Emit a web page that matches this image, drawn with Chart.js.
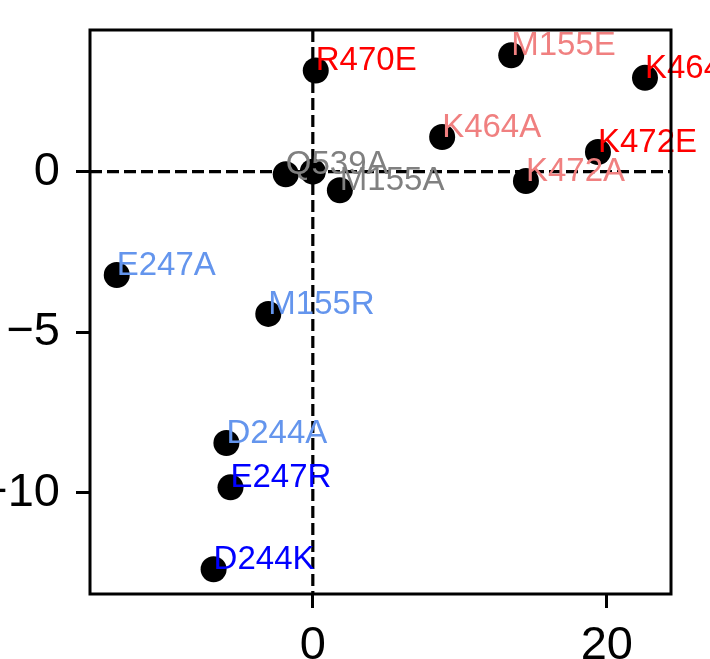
<!DOCTYPE html>
<html>
<head>
<meta charset="utf-8">
<script src="https://cdn.jsdelivr.net/npm/chart.js@4.4.0/dist/chart.umd.min.js"></script>
<style>
  html, body { margin: 0; padding: 0; background: #fff; }
  #chart { display: block; }
</style>
</head>
<body>
<canvas id="chart" width="710" height="659"></canvas>
<script>
// mutant labels, positions and label colours
const mutants = ['WT', 'R470E', 'M155E', 'K464E', 'K464A', 'K472E', 'K472A', 'Q539A', 'M155A',
                 'E247A', 'M155R', 'D244A', 'E247R', 'D244K'];
const xValues = [0, 0.2, 13.5, 22.6, 8.8, 19.4, 14.5, -1.84, 1.84, -13.34, -3.03, -5.88, -5.6, -6.75];
const yValues = [0, 3.15, 3.62, 2.92, 1.08, 0.61, -0.29, -0.08, -0.58, -3.22, -4.43, -8.45, -9.83, -12.38];
const labelColors = ['', '#ff0000', '#f08080', '#ff0000', '#f08080', '#ff0000', '#f08080', '#808080', '#808080',
                     '#6495ed', '#6495ed', '#6495ed', '#0000ff', '#0000ff'];

const xTicks = [0, 20];
const yTicks = [-10, -5, 0];
const xRange = [-15.16, 24.37];
const yRange = [-13.15, 4.41];

const FONT = '"Liberation Sans", Arial, sans-serif';

const points = xValues.map((x, i) => ({ x: x, y: yValues[i] }));

// dashed zero lines, point labels and the frame
const decorations = {
  id: 'decorations',
  afterDatasetsDraw(chart) {
    const { ctx, chartArea, scales } = chart;
    const x0 = scales.x.getPixelForValue(0);
    const y0 = scales.y.getPixelForValue(0);
    ctx.save();
    ctx.strokeStyle = '#000';
    ctx.lineWidth = 3.2;
    ctx.setLineDash([12, 5]);
    ctx.beginPath();
    ctx.moveTo(x0, chartArea.top);
    ctx.lineTo(x0, chartArea.bottom);
    ctx.moveTo(chartArea.left, y0);
    ctx.lineTo(chartArea.right, y0);
    ctx.stroke();
    ctx.restore();

    const meta = chart.getDatasetMeta(0);
    ctx.save();
    ctx.font = '33px ' + FONT;
    ctx.textAlign = 'left';
    ctx.textBaseline = 'alphabetic';
    meta.data.forEach((pt, i) => {
      if (!labelColors[i]) return;
      ctx.fillStyle = labelColors[i];
      ctx.fillText(mutants[i], pt.x, pt.y);
    });
    ctx.restore();
  },
  afterDraw(chart) {
    const { ctx, chartArea } = chart;
    ctx.save();
    ctx.strokeStyle = '#000';
    ctx.lineWidth = 3;
    ctx.strokeRect(chartArea.left, chartArea.top, chartArea.right - chartArea.left, chartArea.bottom - chartArea.top);
    ctx.restore();
  }
};

const fmt = v => (v < 0 ? '\u2212' + Math.abs(v) : String(v));

new Chart(document.getElementById('chart'), {
  type: 'scatter',
  data: {
    datasets: [{
      data: points,
      pointRadius: 13,
      pointHoverRadius: 13,
      pointBackgroundColor: '#000',
      pointBorderWidth: 0,
      clip: false
    }]
  },
  options: {
    responsive: false,
    animation: false,
    events: [],
    layout: { padding: { top: 30, right: 39, left: 0, bottom: 0 } },
    plugins: { legend: { display: false }, tooltip: { enabled: false } },
    scales: {
      x: {
        type: 'linear',
        min: xRange[0],
        max: xRange[1],
        afterFit: s => { s.height = 65; s.paddingLeft = 0; s.paddingRight = 0; },
        afterBuildTicks: s => { s.ticks = xTicks.map(v => ({ value: v })); },
        grid: { drawOnChartArea: false, drawTicks: true, tickLength: 14, color: '#000', lineWidth: 3 },
        border: { display: false },
        ticks: { color: '#000', font: { size: 47, family: FONT }, padding: 10, maxRotation: 0, callback: fmt }
      },
      y: {
        type: 'linear',
        min: yRange[0],
        max: yRange[1],
        afterFit: s => { s.width = 90; s.paddingTop = 0; s.paddingBottom = 0; },
        afterBuildTicks: s => { s.ticks = yTicks.map(v => ({ value: v })); },
        grid: { drawOnChartArea: false, drawTicks: true, tickLength: 14, color: '#000', lineWidth: 3 },
        border: { display: false },
        ticks: { color: '#000', font: { size: 47, family: FONT }, padding: 16, callback: fmt }
      }
    }
  },
  plugins: [decorations]
});
</script>
</body>
</html>
